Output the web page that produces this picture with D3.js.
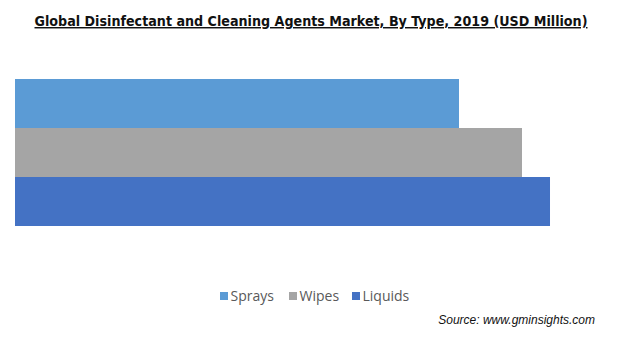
<!DOCTYPE html>
<html>
<head>
<meta charset="utf-8">
<script src="https://cdn.jsdelivr.net/npm/d3@7"></script>
<style>
  html, body { margin: 0; padding: 0; background: #fff; }
  svg { display: block; }
</style>
</head>
<body>
<svg id="chart" width="626" height="341"></svg>
<script>
// Market size by product type, 2019 (USD Million)
const categories = ["Sprays", "Wipes", "Liquids"];
const values = [2805, 3203, 3380];
const colors = ["#5b9bd5", "#a5a5a5", "#4472c4"];

const svg = d3.select("#chart");

// Title
const title = svg.append("text")
  .attr("x", 311).attr("y", 26)
  .attr("text-anchor", "middle")
  .attr("font-family", "'DejaVu Sans Condensed', Tahoma, sans-serif")
  .attr("font-weight", "bold")
  .attr("font-size", 14.5)
  .attr("fill", "#111")
  .attr("text-decoration", "underline")
  .text("Global Disinfectant and Cleaning Agents Market, By Type, 2019 (USD Million)");
// fit title to its printed width
title.attr("textLength", 553).attr("lengthAdjust", "spacingAndGlyphs");

// Scales
const x = d3.scaleLinear().domain([0, 3500]).range([15, 569]);
const y = d3.scaleBand().domain(categories).range([79, 226]).padding(0);

svg.append("g").selectAll("rect")
  .data(categories)
  .join("rect")
  .attr("x", x(0))
  .attr("y", d => y(d))
  .attr("width", (d, i) => x(values[i]) - x(0))
  .attr("height", y.bandwidth())
  .attr("fill", (d, i) => colors[i]);

// Legend
const legendX = [220, 289, 352];
const lg = svg.append("g");
categories.forEach((c, i) => {
  lg.append("rect")
    .attr("x", legendX[i]).attr("y", 292)
    .attr("width", 8).attr("height", 8)
    .attr("fill", colors[i]);
  lg.append("text")
    .attr("x", legendX[i] + 10.5).attr("y", 301)
    .attr("font-family", "'Open Sans', 'DejaVu Sans', sans-serif")
    .attr("font-size", 14)
    .attr("fill", "#595959")
    .text(c);
});

// Source note
svg.append("text")
  .attr("x", 595).attr("y", 324)
  .attr("text-anchor", "end")
  .attr("font-family", "'Liberation Sans', Arial, sans-serif")
  .attr("font-style", "italic")
  .attr("font-size", 12)
  .attr("fill", "#111")
  .text("Source: www.gminsights.com");
</script>
</body>
</html>
